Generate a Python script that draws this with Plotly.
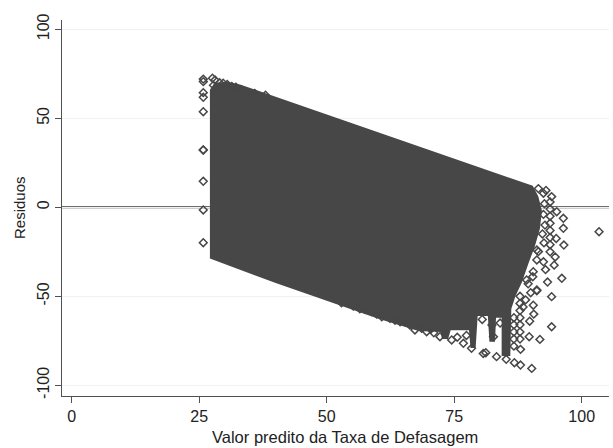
import plotly.graph_objects as go

# Outline of the dense band of residuals (data units: fitted value, residual)
cloud_x = [27.1, 27.1, 28.0, 30.5, 33.0, 90.4, 91.5, 92.2, 91.8, 90.8, 89.5,
           88.3, 87.0, 86.2, 86.0, 84.3, 84.3, 83.2, 83.0, 81.9, 81.6, 79.6, 79.2,
           78.2, 77.9, 74.3, 73.8, 72.6, 72.3, 68.0, 60.0, 50.0, 40.0, 27.1]
cloud_y = [-28.8, 66.0, 70.0, 70.5, 69.0, 12.1, 6.0, -2.0, -12.0, -22.0, -32.0,
           -42.0, -50.0, -57.0, -83.5, -83.5, -62.0, -62.0, -75.5, -75.5, -61.0, -61.0, -79.0,
           -79.0, -69.0, -69.0, -74.0, -74.0, -70.0, -69.5, -62.5, -52.5, -42.5, -28.8]

# Observations standing apart from the band
obs_x = [25.8, 25.8, 25.8, 25.8, 25.8, 25.8, 25.8, 25.8, 25.8, 25.8,
         27.6, 28.1, 29.7, 31.4, 33.3, 35.9, 38.0, 27.8, 29.0, 30.5, 32.2,
         51.6, 52.9, 55.2, 57.5, 58.8, 60.8, 62.4, 64.4, 66.3, 67.3, 68.6, 69.6, 71.0, 72.2,
         74.5, 75.6, 76.8, 77.4, 78.4, 80.5, 82.4, 82.7, 84.0, 56.5, 59.8, 63.4, 65.5, 70.4,
         81.2, 80.7, 83.3, 85.2, 86.8, 88.0, 90.2,
         86.7, 86.7, 86.7, 86.7, 86.7, 87.9, 87.9, 87.9, 87.9, 87.9, 87.9, 87.9, 88.0,
         89.7, 91.8, 94.1, 89.2, 89.5, 90.0, 89.0, 88.5, 90.5, 91.2, 94.1,
         90.4, 91.2, 92.5, 91.2, 90.5, 91.5, 91.2, 94.8, 96.1, 96.5, 96.4, 96.4, 95.1, 94.1, 92.5,
         93.8, 93.8, 93.8, 93.8, 93.8, 93.8, 93.8, 93.8, 92.7, 92.5, 92.8, 92.3, 92.6,
         93.0, 91.5, 92.9, 95.0, 94.6, 93.3, 90.6, 89.8,
         103.4]
obs_y = [70.6, 64.4, 61.8, 53.7, 32.2, 32.2, 14.6, -1.5, -19.9, 72.0,
         72.5, 71.5, 69.7, 67.8, 65.9, 64.0, 63.0, 68.5, 70.0, 69.0, 67.5,
         -50.5, -53.6, -55.4, -57.3, -58.6, -61.5, -62.4, -64.3, -66.1, -68.9, -68.0, -69.9, -70.5, -72.7,
         -74.5, -73.0, -76.4, -72.0, -79.2, -63.0, -66.1, -72.7, -65.0, -57.0, -60.0, -63.5, -64.5, -68.5,
         -81.7, -82.1, -83.9, -85.4, -87.3, -88.6, -90.5,
         -62.0, -66.0, -70.0, -74.0, -78.0, -50.0, -54.0, -58.0, -62.0, -66.0, -70.0, -74.0, -79.8,
         -72.7, -74.2, -67.1, -40.8, -43.0, -48.0, -52.0, -56.0, -55.0, -46.5, -50.2,
         -39.0, -29.6, -30.6, -24.0, -36.2, -24.9, -46.9, -27.9, -39.9, -21.2, -11.8, -6.2, -2.5, 6.0, 7.9,
         3.0, -1.0, -5.0, -9.0, -13.0, -17.0, -21.0, -25.0, 2.0, -4.0, -10.0, -15.0, -20.0,
         9.5, 10.5, -35.0, -17.5, -32.5, -42.0, -60.0, -64.0,
         -13.7]

x_ticks = [0, 25, 50, 75, 100]
y_ticks = [100, 50, 0, -50, -100]
y_tick_text = ["100", "50", "0", "-50", "-100"]
x_range = [-1.9, 105.35]
y_range = [-106.0, 105.2]

ink = "#474747"
axis_color = "#505050"
font = dict(family="Liberation Sans, Arial, sans-serif", size=16, color="#222222")

fig = go.Figure()

fig.add_trace(go.Scatter(
    x=cloud_x, y=cloud_y, mode="lines", fill="toself",
    fillcolor=ink, line=dict(width=0, color=ink), hoverinfo="skip", showlegend=False,
))

fig.add_trace(go.Scatter(
    x=obs_x, y=obs_y, mode="markers",
    marker=dict(symbol="diamond-open", size=6, color=ink, line=dict(width=1.5, color=ink)),
    showlegend=False,
))

# Reference line at zero residual
fig.add_shape(type="line", xref="paper", x0=0, x1=1, yref="y", y0=0, y1=0,
              line=dict(color="#3c3c3c", width=2), layer="below")

fig.update_layout(
    width=613, height=448,
    margin=dict(l=62, r=4, t=20, b=52),
    paper_bgcolor="white", plot_bgcolor="white",
    font=font,
    xaxis=dict(range=x_range, tickvals=x_ticks, ticks="outside", ticklen=6,
               tickcolor=axis_color, showline=True, linecolor=axis_color, linewidth=1,
               showgrid=False, zeroline=False, tickfont=font),
    yaxis=dict(range=y_range, tickvals=y_ticks, ticktext=y_tick_text, tickangle=-90,
               ticks="outside", ticklen=6, tickcolor=axis_color, showline=True,
               linecolor=axis_color, linewidth=1, showgrid=True, gridcolor="#edf3f3",
               gridwidth=1, zeroline=False, tickfont=font),
    annotations=[
        dict(text="Valor predito da Taxa de Defasagem", xref="paper", yref="paper",
             x=0.517, y=-0.109, xanchor="center", yanchor="middle", showarrow=False,
             font=dict(family=font["family"], size=16.5, color="#222222")),
        dict(text="Residuos", xref="paper", yref="paper", x=-0.0786, y=0.5,
             xanchor="center", yanchor="middle", textangle=-90, showarrow=False,
             font=dict(family=font["family"], size=15, color="#222222")),
    ],
)

fig.write_html("out.html")
